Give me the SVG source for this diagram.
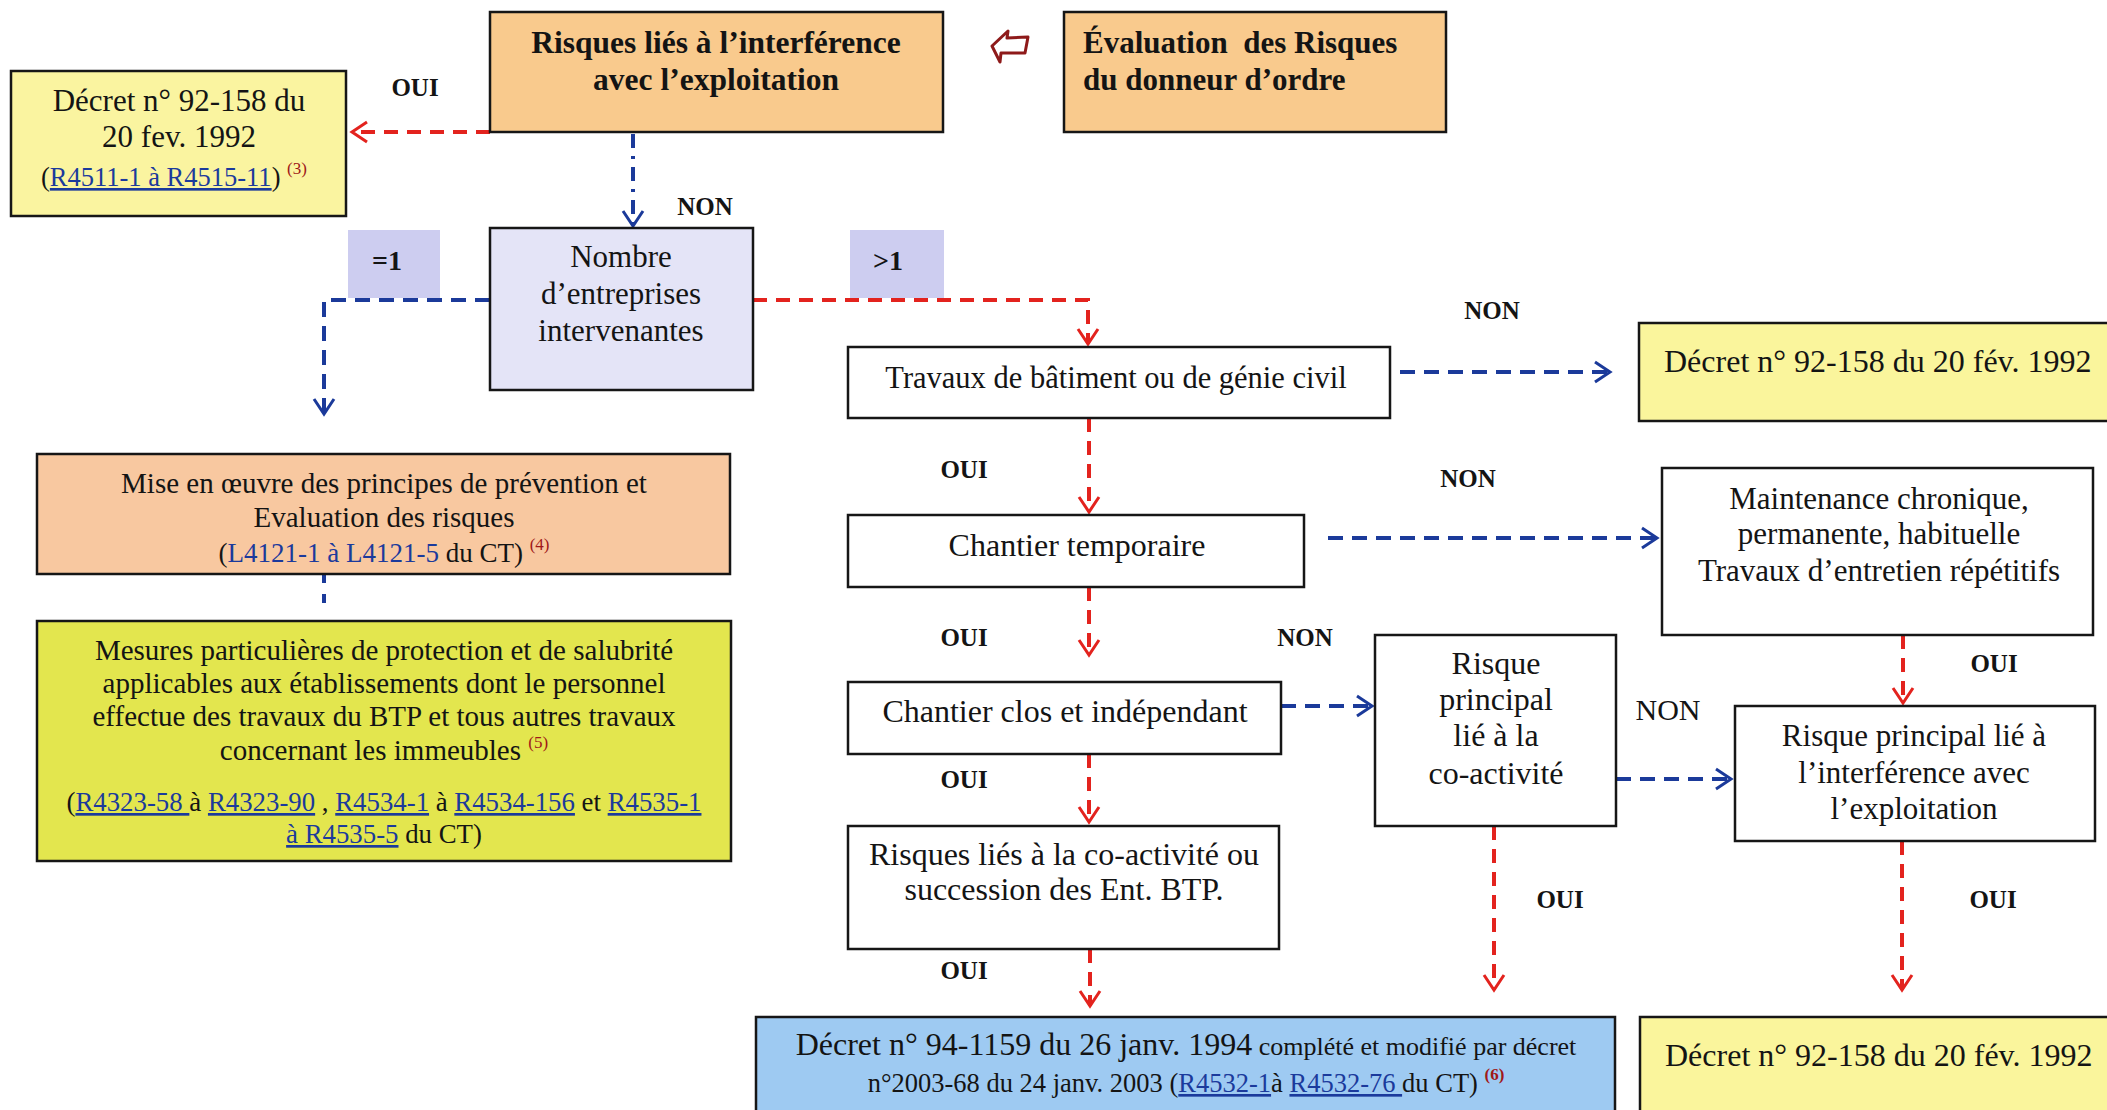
<svg xmlns="http://www.w3.org/2000/svg" width="2107" height="1110" viewBox="0 0 2107 1110">
<style>
.box{stroke:#161616;stroke-width:2.5}
.t{font-family:"Liberation Serif","Times New Roman",serif;fill:#141414}
.c{text-anchor:middle}
.b{font-weight:bold}
.lnk{fill:#1B3A9C;text-decoration:underline}
.blu{fill:#1B3A9C}
.sup{fill:#A01818;font-size:17px}
.lbl{font-family:"Liberation Serif","Times New Roman",serif;font-weight:bold;font-size:25px;fill:#141414;text-anchor:middle}
.red{fill:none;stroke:#E3231E;stroke-width:4;stroke-dasharray:14 9}
.blue{fill:none;stroke:#1B3A9A;stroke-width:4;stroke-dasharray:15 9}
</style>
<defs>
<marker id="ar" viewBox="0 0 20 24" refX="17" refY="12" markerWidth="20" markerHeight="24" markerUnits="userSpaceOnUse" orient="auto">
<path d="M2,2 L17,12 L2,22" fill="none" stroke="#E3231E" stroke-width="3"/>
</marker>
<marker id="ab" viewBox="0 0 20 24" refX="17" refY="12" markerWidth="20" markerHeight="24" markerUnits="userSpaceOnUse" orient="auto">
<path d="M2,2 L17,12 L2,22" fill="none" stroke="#1B3A9A" stroke-width="3"/>
</marker>
</defs>
<rect width="2107" height="1110" fill="#ffffff"/>

<g id="connectors">
<path class="red" d="M490,132 H352" marker-end="url(#ar)"/>
<path fill="none" stroke="#1B3A9A" stroke-width="4" stroke-dasharray="14 8 3 8" d="M633,134 V226" marker-end="url(#ab)"/>
<path class="blue" d="M490,300 H324 V414" marker-end="url(#ab)"/>
<path class="red" d="M753,300 H1088 V344" marker-end="url(#ar)"/>
<path class="blue" d="M1400,372 H1610" marker-end="url(#ab)"/>
<path class="red" d="M1089,418 V512" marker-end="url(#ar)"/>
<path class="blue" d="M1328,538 H1657" marker-end="url(#ab)"/>
<path class="red" d="M1089,587 V655" marker-end="url(#ar)"/>
<path class="blue" d="M1281,706 H1372" marker-end="url(#ab)"/>
<path class="red" d="M1089,754 V822" marker-end="url(#ar)"/>
<path class="red" d="M1903,635 V703" marker-end="url(#ar)"/>
<path class="blue" d="M1616,779 H1731" marker-end="url(#ab)"/>
<path class="red" d="M1090,949 V1006" marker-end="url(#ar)"/>
<path class="red" d="M1494,826 V990" marker-end="url(#ar)"/>
<path class="red" d="M1902,841 V990" marker-end="url(#ar)"/>
<path fill="none" stroke="#1B3A9A" stroke-width="4" stroke-dasharray="9 11" d="M324,574 V612"/>
<polygon points="992,46 1008,31 1007,38 1028,37 1025,53 1001,53 1000,62" fill="#ffffff" stroke="#8E1A1A" stroke-width="3" stroke-linejoin="round"/>
</g>

<g id="labels">
<text class="lbl" x="415" y="96">OUI</text>
<text class="lbl" x="705" y="215">NON</text>
<text class="lbl" x="1492" y="319">NON</text>
<text class="lbl" x="964" y="478">OUI</text>
<text class="lbl" x="1468" y="487">NON</text>
<text class="lbl" x="964" y="646">OUI</text>
<text class="lbl" x="1305" y="646">NON</text>
<text class="lbl" x="1994" y="672">OUI</text>
<text class="t c" x="1668" y="720" font-size="30">NON</text>
<text class="lbl" x="964" y="788">OUI</text>
<text class="lbl" x="1560" y="908">OUI</text>
<text class="lbl" x="1993" y="908">OUI</text>
<text class="lbl" x="964" y="979">OUI</text>
</g>

<g id="n-risques-interference">
<rect class="box" x="490" y="12" width="453" height="120" fill="#F9CA8D"/>
<text class="t c b" x="716" y="53" font-size="31.5">Risques liés à l’interférence</text>
<text class="t c b" x="716" y="90" font-size="31.5">avec l’exploitation</text>
</g>

<g id="n-evaluation">
<rect class="box" x="1064" y="12" width="382" height="120" fill="#F9CA8D"/>
<text class="t b" x="1083" y="53" font-size="31">Évaluation&#160; des Risques</text>
<text class="t b" x="1083" y="90" font-size="31">du donneur d’ordre</text>
</g>

<g id="n-decret-left">
<rect class="box" x="11" y="71" width="335" height="145" fill="#FAF4A0"/>
<text class="t c" x="179" y="111" font-size="31">Décret n° 92-158 du</text>
<text class="t c" x="179" y="147" font-size="31">20 fev. 1992</text>
<text class="t" x="41" y="186" font-size="26.5">(<tspan class="lnk">R4511-1 à R4515-11</tspan>) <tspan class="sup" dy="-12">(3)</tspan></text>
</g>

<g id="n-nombre">
<rect class="box" x="490" y="228" width="263" height="162" fill="#E4E4F7"/>
<text class="t c" x="621" y="267" font-size="31">Nombre</text>
<text class="t c" x="621" y="304" font-size="31">d’entreprises</text>
<text class="t c" x="621" y="341" font-size="31">intervenantes</text>
</g>

<g id="n-eq1">
<rect x="348" y="230" width="92" height="68" fill="#CDCDF0"/>
<text class="t b" x="387" y="270" font-size="28" text-anchor="middle">=1</text>
</g>

<g id="n-gt1">
<rect x="850" y="230" width="94" height="68" fill="#CDCDF0"/>
<text class="t b" x="888" y="270" font-size="28" text-anchor="middle">&gt;1</text>
</g>

<g id="n-travaux">
<rect class="box" x="848" y="347" width="542" height="71" fill="#ffffff"/>
<text class="t c" x="1116" y="388" font-size="30.5">Travaux de bâtiment ou de génie civil</text>
</g>

<g id="n-decret-top-right">
<rect class="box" x="1639" y="323" width="480" height="98" fill="#FAF59C"/>
<text class="t" x="1664" y="372" font-size="32">Décret n° 92-158 du 20 fév. 1992</text>
</g>

<g id="n-mise">
<rect class="box" x="37" y="454" width="693" height="120" fill="#F8C8A0"/>
<text class="t c" x="384" y="493" font-size="29">Mise en œuvre des principes de prévention et</text>
<text class="t c" x="384" y="527" font-size="29">Evaluation des risques</text>
<text class="t c" x="384" y="562" font-size="27">(<tspan class="blu">L4121-1 à L4121-5</tspan> du CT) <tspan class="sup" dy="-12">(4)</tspan></text>
</g>

<g id="n-mesures">
<rect class="box" x="37" y="621" width="694" height="240" fill="#E3E64E"/>
<text class="t c" x="384" y="660" font-size="29">Mesures particulières de protection et de salubrité</text>
<text class="t c" x="384" y="693" font-size="29">applicables aux établissements dont le personnel</text>
<text class="t c" x="384" y="726" font-size="29">effectue des travaux du BTP et tous autres travaux</text>
<text class="t c" x="384" y="760" font-size="29">concernant les immeubles <tspan class="sup" dy="-12">(5)</tspan></text>
<text class="t c" x="384" y="811" font-size="26.8">(<tspan class="lnk">R4323-58 </tspan> à  <tspan class="lnk">R4323-90</tspan> , <tspan class="lnk">R4534-1</tspan> à <tspan class="lnk">R4534-156</tspan>  et <tspan class="lnk">R4535-1</tspan></text>
<text class="t c" x="384" y="843" font-size="26.8"><tspan class="lnk">à R4535-5</tspan> du CT)</text>
</g>

<g id="n-chantier-temporaire">
<rect class="box" x="848" y="515" width="456" height="72" fill="#ffffff"/>
<text class="t c" x="1077" y="556" font-size="32">Chantier temporaire</text>
</g>

<g id="n-maintenance">
<rect class="box" x="1662" y="468" width="431" height="167" fill="#ffffff"/>
<text class="t c" x="1879" y="509" font-size="31">Maintenance chronique,</text>
<text class="t c" x="1879" y="544" font-size="31">permanente, habituelle</text>
<text class="t c" x="1879" y="581" font-size="31">Travaux d’entretien répétitifs</text>
</g>

<g id="n-chantier-clos">
<rect class="box" x="848" y="682" width="433" height="72" fill="#ffffff"/>
<text class="t c" x="1065" y="722" font-size="32">Chantier clos et indépendant</text>
</g>

<g id="n-risque-coactivite">
<rect class="box" x="1375" y="635" width="241" height="191" fill="#ffffff"/>
<text class="t c" x="1496" y="674" font-size="32">Risque</text>
<text class="t c" x="1496" y="710" font-size="32">principal</text>
<text class="t c" x="1496" y="746" font-size="32">lié à la</text>
<text class="t c" x="1496" y="784" font-size="32">co-activité</text>
</g>

<g id="n-risque-interference">
<rect class="box" x="1735" y="706" width="360" height="135" fill="#ffffff"/>
<text class="t c" x="1914" y="746" font-size="31">Risque principal lié à</text>
<text class="t c" x="1914" y="783" font-size="31">l’interférence avec</text>
<text class="t c" x="1914" y="819" font-size="31">l’exploitation</text>
</g>

<g id="n-risques-coactivite-btp">
<rect class="box" x="848" y="826" width="431" height="123" fill="#ffffff"/>
<text class="t c" x="1064" y="865" font-size="32">Risques liés à la co-activité ou</text>
<text class="t c" x="1064" y="900" font-size="32">succession des Ent. BTP.</text>
</g>

<g id="n-decret-1994">
<rect class="box" x="756" y="1017" width="859" height="110" fill="#9ECAF2"/>
<text class="t c" x="1186" y="1055" font-size="32">Décret n° 94-1159 du 26 janv. 1994<tspan font-size="26"> complété et modifié par décret</tspan></text>
<text class="t c" x="1186" y="1092" font-size="26.5">n°2003-68 du 24 janv. 2003 (<tspan class="lnk">R4532-1</tspan>à <tspan class="lnk">R4532-76 </tspan>du CT) <tspan class="sup" dy="-12" font-weight="bold">(6)</tspan></text>
</g>

<g id="n-decret-bottom-right">
<rect class="box" x="1640" y="1017" width="480" height="110" fill="#FAF59C"/>
<text class="t" x="1665" y="1066" font-size="32">Décret n° 92-158 du 20 fév. 1992</text>
</g>
</svg>
